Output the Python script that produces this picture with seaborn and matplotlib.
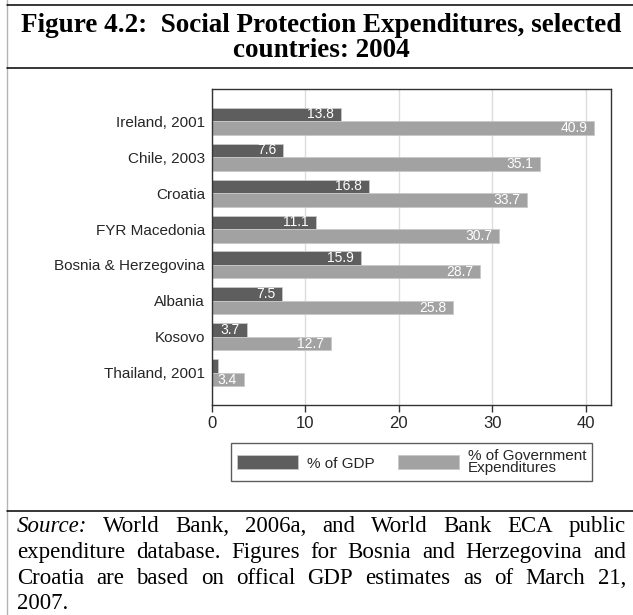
import matplotlib
matplotlib.use("Agg")
import matplotlib.pyplot as plt
from matplotlib.lines import Line2D
from matplotlib.patches import Patch
import numpy as np
import pandas as pd
import seaborn as sns

# Data
countries = ["Ireland, 2001", "Chile, 2003", "Croatia", "FYR Macedonia",
             "Bosnia & Herzegovina", "Albania", "Kosovo", "Thailand, 2001"]
pct_gdp = [13.8, 7.6, 16.8, 11.1, 15.9, 7.5, 3.7, 0.6]
pct_gov = [40.9, 35.1, 33.7, 30.7, 28.7, 25.8, 12.7, 3.4]
series = ["% of GDP", "% of Government\nExpenditures"]
x_ticks = [0, 10, 20, 30, 40]

title_lines = ["Figure 4.2:  Social Protection Expenditures, selected",
               "countries: 2004"]
source_lines = [
    ["Source:", "World", "Bank,", "2006a,", "and", "World", "Bank", "ECA", "public"],
    ["expenditure", "database.", "Figures", "for", "Bosnia", "and", "Herzegovina", "and"],
    ["Croatia", "are", "based", "on", "offical", "GDP", "estimates", "as", "of", "March", "21,"],
    ["2007."],
]

df = pd.DataFrame({
    "country": countries * 2,
    "value": pct_gdp + pct_gov,
    "series": [series[0]] * len(countries) + [series[1]] * len(countries),
})

sns.set_theme(style="white")
plt.rcParams["font.family"] = ["Liberation Sans", "DejaVu Sans"]

W, H = 633, 615
fig = plt.figure(figsize=(W / 100, H / 100), dpi=100)
fig.patch.set_facecolor("white")

dark, light = "#5e5e5e", "#a2a2a2"
ax = fig.add_axes([212 / W, 1 - 405 / H, 399 / W, 316 / H])
sns.barplot(data=df, y="country", x="value", hue="series", order=countries,
            hue_order=series, palette=[dark, light], width=0.75, orient="h",
            edgecolor="#c8c8c8", linewidth=0.6, saturation=1, legend=False, ax=ax)

# value labels inside the bar ends
for cont, vals in zip(ax.containers, [pct_gdp, pct_gov]):
    for patch, v in zip(cont.patches, vals):
        if v < 2:
            continue
        ax.annotate(f"{v:.1f}", xy=(v, patch.get_y() + patch.get_height() / 2),
                    xytext=(-5, 0), textcoords="offset points", ha="right",
                    va="center", color="white", fontsize=10)

ax.set_xlim(0, 42.7)
ax.set_ylim(len(countries) - 1 + 0.89, -0.89)
ax.set_xticks(x_ticks)
ax.set_xlabel("")
ax.set_ylabel("")
ax.xaxis.grid(True, color="#dcdcdc", lw=1)
ax.set_axisbelow(True)
for s in ax.spines.values():
    s.set_visible(True)
    s.set_color("#333333")
    s.set_linewidth(1)
ax.tick_params(axis="x", direction="out", length=5, width=1, color="#333333",
               labelsize=12, pad=3, bottom=True)
ax.tick_params(axis="y", length=0, labelsize=11, pad=5)

# legend
handles = [Patch(facecolor=dark, edgecolor="#c8c8c8", lw=0.6),
           Patch(facecolor=light, edgecolor="#c8c8c8", lw=0.6)]
leg = fig.legend(handles, series, ncol=2, loc="upper center",
                 bbox_to_anchor=(411.5 / W, 1 - 443 / H), frameon=True,
                 fancybox=False, edgecolor="#333333", fontsize=11,
                 handlelength=4.0, handleheight=1.0, handletextpad=0.6,
                 columnspacing=1.5, borderpad=0.4, borderaxespad=0)
leg.get_frame().set_linewidth(1)
for t in leg.get_texts():
    t.set_linespacing(0.8)

# page frame lines
fig.add_artist(Line2D([7.5 / W, 7.5 / W], [0, 1], color="#b4b4b4", lw=1))
for yy in (5, 68, 511):
    fig.add_artist(Line2D([7 / W, 1], [1 - yy / H] * 2, color="black", lw=1.1))

# title
serif = ["Liberation Serif", "DejaVu Serif"]
for line, base in zip(title_lines, (32, 57)):
    fig.text(321 / W, 1 - base / H, line, ha="center", va="baseline",
             family=serif, weight="bold", fontsize=19.5, color="black")

# justified source note
renderer = fig.canvas.get_renderer()
left_px, right_px = 17, 626
fs = 16.5
bases = (532, 558, 584, 609)
for li, (words, base) in enumerate(zip(source_lines, bases)):
    texts = []
    for wi, w in enumerate(words):
        style = "italic" if (li == 0 and wi == 0) else "normal"
        t = fig.text(0, 1 - base / H, w, ha="left", va="baseline",
                     family=serif, fontsize=fs, style=style, color="black")
        texts.append(t)
    widths = [t.get_window_extent(renderer).width for t in texts]
    last = li == len(source_lines) - 1
    if last or len(words) == 1:
        gap = fs * 0.25 * 100 / 72
    else:
        gap = (right_px - left_px - sum(widths)) / (len(words) - 1)
    x = left_px
    for t, wdt in zip(texts, widths):
        t.set_x(x / W)
        x += wdt + gap

fig.savefig("out.png", dpi=100, facecolor="white")
